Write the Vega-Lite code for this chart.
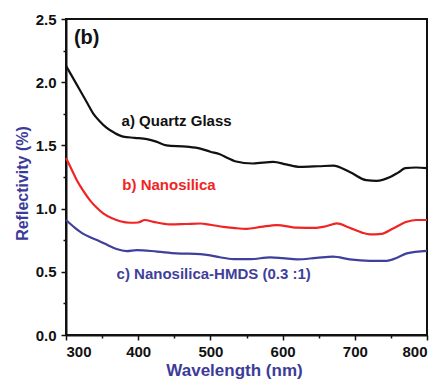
{
  "$schema": "https://vega.github.io/schema/vega-lite/v6.json",
  "width": 361,
  "height": 316,
  "autosize": {"type": "none"},
  "padding": {"left": 66, "top": 19, "right": 11, "bottom": 46},
  "background": "white",
  "config": {
    "view": {"stroke": "#111111", "strokeWidth": 2},
    "axis": {
      "grid": false,
      "domainColor": "#111111",
      "domainWidth": 2,
      "tickColor": "#111111",
      "tickWidth": 1.5,
      "labelFont": "Liberation Sans",
      "labelFontWeight": "bold",
      "labelFontSize": 15,
      "labelColor": "#111111",
      "titleFont": "Liberation Sans",
      "titleFontWeight": "bold",
      "titleColor": "#3c3c98"
    }
  },
  "datasets": {
    "spectra": [
      {"series": "Quartz Glass", "wavelength": 300, "reflectivity": 2.13},
      {"series": "Quartz Glass", "wavelength": 310, "reflectivity": 2.03},
      {"series": "Quartz Glass", "wavelength": 319, "reflectivity": 1.94},
      {"series": "Quartz Glass", "wavelength": 330, "reflectivity": 1.83},
      {"series": "Quartz Glass", "wavelength": 338, "reflectivity": 1.75},
      {"series": "Quartz Glass", "wavelength": 347, "reflectivity": 1.69},
      {"series": "Quartz Glass", "wavelength": 356, "reflectivity": 1.64},
      {"series": "Quartz Glass", "wavelength": 367, "reflectivity": 1.6},
      {"series": "Quartz Glass", "wavelength": 379, "reflectivity": 1.57},
      {"series": "Quartz Glass", "wavelength": 395, "reflectivity": 1.56},
      {"series": "Quartz Glass", "wavelength": 412, "reflectivity": 1.55},
      {"series": "Quartz Glass", "wavelength": 425, "reflectivity": 1.53},
      {"series": "Quartz Glass", "wavelength": 439, "reflectivity": 1.5},
      {"series": "Quartz Glass", "wavelength": 467, "reflectivity": 1.49},
      {"series": "Quartz Glass", "wavelength": 486, "reflectivity": 1.475},
      {"series": "Quartz Glass", "wavelength": 500, "reflectivity": 1.45},
      {"series": "Quartz Glass", "wavelength": 513, "reflectivity": 1.43},
      {"series": "Quartz Glass", "wavelength": 524, "reflectivity": 1.4},
      {"series": "Quartz Glass", "wavelength": 534, "reflectivity": 1.375},
      {"series": "Quartz Glass", "wavelength": 559, "reflectivity": 1.357},
      {"series": "Quartz Glass", "wavelength": 587, "reflectivity": 1.37},
      {"series": "Quartz Glass", "wavelength": 605, "reflectivity": 1.35},
      {"series": "Quartz Glass", "wavelength": 624, "reflectivity": 1.33},
      {"series": "Quartz Glass", "wavelength": 650, "reflectivity": 1.335},
      {"series": "Quartz Glass", "wavelength": 670, "reflectivity": 1.34},
      {"series": "Quartz Glass", "wavelength": 693, "reflectivity": 1.29},
      {"series": "Quartz Glass", "wavelength": 716, "reflectivity": 1.225},
      {"series": "Quartz Glass", "wavelength": 730, "reflectivity": 1.22},
      {"series": "Quartz Glass", "wavelength": 749, "reflectivity": 1.25},
      {"series": "Quartz Glass", "wavelength": 760, "reflectivity": 1.285},
      {"series": "Quartz Glass", "wavelength": 770, "reflectivity": 1.32},
      {"series": "Quartz Glass", "wavelength": 785, "reflectivity": 1.325},
      {"series": "Quartz Glass", "wavelength": 800, "reflectivity": 1.32},
      {"series": "Nanosilica", "wavelength": 300, "reflectivity": 1.4},
      {"series": "Nanosilica", "wavelength": 307, "reflectivity": 1.32},
      {"series": "Nanosilica", "wavelength": 315, "reflectivity": 1.225},
      {"series": "Nanosilica", "wavelength": 324, "reflectivity": 1.14},
      {"series": "Nanosilica", "wavelength": 333, "reflectivity": 1.067},
      {"series": "Nanosilica", "wavelength": 342, "reflectivity": 1.01},
      {"series": "Nanosilica", "wavelength": 352, "reflectivity": 0.96},
      {"series": "Nanosilica", "wavelength": 363, "reflectivity": 0.925},
      {"series": "Nanosilica", "wavelength": 375, "reflectivity": 0.9},
      {"series": "Nanosilica", "wavelength": 389, "reflectivity": 0.888},
      {"series": "Nanosilica", "wavelength": 400, "reflectivity": 0.89},
      {"series": "Nanosilica", "wavelength": 409, "reflectivity": 0.91},
      {"series": "Nanosilica", "wavelength": 421, "reflectivity": 0.895},
      {"series": "Nanosilica", "wavelength": 444, "reflectivity": 0.875},
      {"series": "Nanosilica", "wavelength": 465, "reflectivity": 0.878},
      {"series": "Nanosilica", "wavelength": 486, "reflectivity": 0.882},
      {"series": "Nanosilica", "wavelength": 500, "reflectivity": 0.872},
      {"series": "Nanosilica", "wavelength": 518, "reflectivity": 0.856},
      {"series": "Nanosilica", "wavelength": 535, "reflectivity": 0.845},
      {"series": "Nanosilica", "wavelength": 550, "reflectivity": 0.84},
      {"series": "Nanosilica", "wavelength": 570, "reflectivity": 0.855},
      {"series": "Nanosilica", "wavelength": 592, "reflectivity": 0.87},
      {"series": "Nanosilica", "wavelength": 620, "reflectivity": 0.85},
      {"series": "Nanosilica", "wavelength": 647, "reflectivity": 0.848},
      {"series": "Nanosilica", "wavelength": 660, "reflectivity": 0.86},
      {"series": "Nanosilica", "wavelength": 675, "reflectivity": 0.883},
      {"series": "Nanosilica", "wavelength": 690, "reflectivity": 0.855},
      {"series": "Nanosilica", "wavelength": 698, "reflectivity": 0.836},
      {"series": "Nanosilica", "wavelength": 710, "reflectivity": 0.81},
      {"series": "Nanosilica", "wavelength": 721, "reflectivity": 0.796},
      {"series": "Nanosilica", "wavelength": 737, "reflectivity": 0.8},
      {"series": "Nanosilica", "wavelength": 753, "reflectivity": 0.843},
      {"series": "Nanosilica", "wavelength": 772, "reflectivity": 0.896},
      {"series": "Nanosilica", "wavelength": 785, "reflectivity": 0.91},
      {"series": "Nanosilica", "wavelength": 800, "reflectivity": 0.91},
      {"series": "Nanosilica-HMDS", "wavelength": 300, "reflectivity": 0.91},
      {"series": "Nanosilica-HMDS", "wavelength": 312, "reflectivity": 0.85},
      {"series": "Nanosilica-HMDS", "wavelength": 324, "reflectivity": 0.8},
      {"series": "Nanosilica-HMDS", "wavelength": 335, "reflectivity": 0.77},
      {"series": "Nanosilica-HMDS", "wavelength": 347, "reflectivity": 0.74},
      {"series": "Nanosilica-HMDS", "wavelength": 358, "reflectivity": 0.71},
      {"series": "Nanosilica-HMDS", "wavelength": 370, "reflectivity": 0.68},
      {"series": "Nanosilica-HMDS", "wavelength": 384, "reflectivity": 0.664},
      {"series": "Nanosilica-HMDS", "wavelength": 398, "reflectivity": 0.672},
      {"series": "Nanosilica-HMDS", "wavelength": 426, "reflectivity": 0.66},
      {"series": "Nanosilica-HMDS", "wavelength": 453, "reflectivity": 0.646},
      {"series": "Nanosilica-HMDS", "wavelength": 486, "reflectivity": 0.64},
      {"series": "Nanosilica-HMDS", "wavelength": 500, "reflectivity": 0.63},
      {"series": "Nanosilica-HMDS", "wavelength": 513, "reflectivity": 0.615},
      {"series": "Nanosilica-HMDS", "wavelength": 532, "reflectivity": 0.6},
      {"series": "Nanosilica-HMDS", "wavelength": 555, "reflectivity": 0.6},
      {"series": "Nanosilica-HMDS", "wavelength": 583, "reflectivity": 0.614},
      {"series": "Nanosilica-HMDS", "wavelength": 600, "reflectivity": 0.608},
      {"series": "Nanosilica-HMDS", "wavelength": 620, "reflectivity": 0.598},
      {"series": "Nanosilica-HMDS", "wavelength": 647, "reflectivity": 0.61},
      {"series": "Nanosilica-HMDS", "wavelength": 670, "reflectivity": 0.62},
      {"series": "Nanosilica-HMDS", "wavelength": 693, "reflectivity": 0.598},
      {"series": "Nanosilica-HMDS", "wavelength": 721, "reflectivity": 0.587},
      {"series": "Nanosilica-HMDS", "wavelength": 744, "reflectivity": 0.587},
      {"series": "Nanosilica-HMDS", "wavelength": 760, "reflectivity": 0.615},
      {"series": "Nanosilica-HMDS", "wavelength": 772, "reflectivity": 0.646},
      {"series": "Nanosilica-HMDS", "wavelength": 800, "reflectivity": 0.666}
    ],
    "labels": [
      {"series": "Quartz Glass", "wavelength": 377, "reflectivity": 1.69, "text": "a) Quartz Glass"},
      {"series": "Nanosilica", "wavelength": 378, "reflectivity": 1.186, "text": "b) Nanosilica"},
      {"series": "Nanosilica-HMDS", "wavelength": 370, "reflectivity": 0.48, "text": "c) Nanosilica-HMDS (0.3 :1)"}
    ],
    "panel": [
      {"wavelength": 311, "reflectivity": 2.35, "text": "(b)"}
    ]
  },
  "encoding": {
    "x": {
      "field": "wavelength",
      "type": "quantitative",
      "scale": {"domain": [300, 800], "nice": false, "zero": false},
      "axis": {
        "title": "Wavelength (nm)",
        "titleFontSize": 17,
        "titlePadding": 3,
        "titleX": 168,
        "titleAlign": "center",
        "values": [300, 350, 400, 450, 500, 550, 600, 650, 700, 750, 800],
        "labelExpr": "datum.value % 100 === 0 ? datum.label : ''",
        "labelPadding": 4,
        "tickSize": {"condition": {"test": "datum.value % 100 === 0", "value": 5}, "value": 3}
      }
    },
    "y": {
      "field": "reflectivity",
      "type": "quantitative",
      "scale": {"domain": [0, 2.5], "nice": false},
      "axis": {
        "title": "Reflectivity (%)",
        "titleFontSize": 16,
        "titlePadding": 5,
        "titleY": 164,
        "titleAlign": "center",
        "values": [0, 0.25, 0.5, 0.75, 1, 1.25, 1.5, 1.75, 2, 2.25, 2.5],
        "format": ".1f",
        "labelExpr": "round(datum.value * 4) % 2 === 0 ? datum.label : ''",
        "labelPadding": 5,
        "tickSize": {"condition": {"test": "round(datum.value * 4) % 2 === 0", "value": 5}, "value": 3}
      }
    }
  },
  "layer": [
    {
      "data": {"name": "spectra"},
      "mark": {"type": "line", "strokeWidth": 2.2, "interpolate": "monotone"},
      "encoding": {
        "color": {
          "field": "series",
          "type": "nominal",
          "scale": {"domain": ["Quartz Glass", "Nanosilica", "Nanosilica-HMDS"], "range": ["#111111", "#f02424", "#3f3f9c"]},
          "legend": null
        }
      }
    },
    {
      "data": {"name": "labels"},
      "mark": {"type": "text", "align": "left", "baseline": "middle", "font": "Liberation Sans", "fontWeight": "bold", "fontSize": 15},
      "encoding": {
        "text": {"field": "text"},
        "color": {"field": "series", "type": "nominal", "legend": null}
      }
    },
    {
      "data": {"name": "panel"},
      "mark": {"type": "text", "align": "left", "baseline": "middle", "font": "Liberation Sans", "fontWeight": "bold", "fontSize": 20, "color": "#111111"},
      "encoding": {
        "text": {"field": "text"}
      }
    }
  ]
}
